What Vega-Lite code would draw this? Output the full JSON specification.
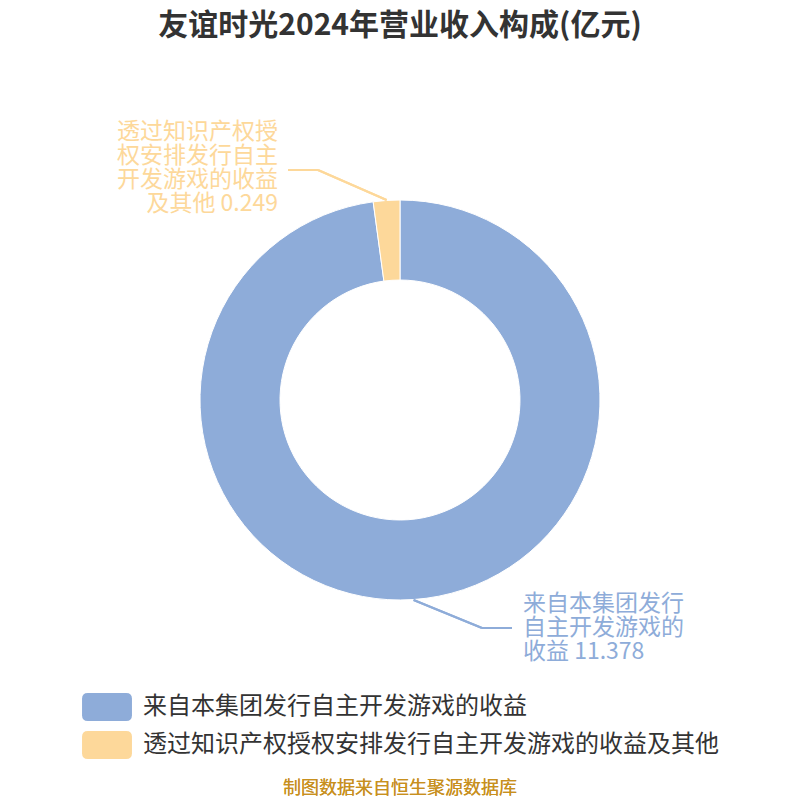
{
  "$schema": "https://vega.github.io/schema/vega-lite/v6.json",
  "width": 800,
  "height": 800,
  "autosize": {"type": "none"},
  "padding": 0,
  "background": "white",
  "config": {"view": {"stroke": null}, "font": "Noto Sans CJK SC"},
  "title": {
    "text": "友谊时光2024年营业收入构成(亿元)",
    "fontSize": 30,
    "fontWeight": "bold",
    "color": "#333333",
    "font": "Noto Sans CJK SC",
    "anchor": "middle",
    "offset": -41
  },
  "data": {
    "values": [
      {"category": "来自本集团发行自主开发游戏的收益", "value": 11.378, "order": 1, "label": "\u00a0来自本集团发行\n自主开发游戏的\n收益 11.378"},
      {"category": "透过知识产权授权安排发行自主开发游戏的收益及其他", "value": 0.249, "order": 2, "label": "透过知识产权授\n权安排发行自主\n开发游戏的收益\n及其他 0.249"}
    ]
  },
  "layer": [
    {
      "mark": {"type": "arc", "outerRadius": 200, "innerRadius": 120, "stroke": "white", "strokeWidth": 1},
      "encoding": {
        "theta": {"field": "value", "type": "quantitative", "stack": true},
        "order": {"field": "order", "type": "quantitative"},
        "color": {
          "field": "category",
          "type": "nominal",
          "sort": null,
          "scale": {
            "domain": ["来自本集团发行自主开发游戏的收益", "透过知识产权授权安排发行自主开发游戏的收益及其他"],
            "range": ["#8eacd9", "#fdd89a"]
          },
          "legend": {
            "title": null,
            "orient": "none",
            "legendX": 83,
            "legendY": 683,
            "padding": 0,
            "rowPadding": 0,
            "symbolType": "M-0.8,-0.58 L0.8,-0.58 Q1.04,-0.58 1.04,-0.34 L1.04,0.34 Q1.04,0.58 0.8,0.58 L-0.8,0.58 Q-1.04,0.58 -1.04,0.34 L-1.04,-0.34 Q-1.04,-0.58 -0.8,-0.58 Z",
            "symbolSize": 2304,
            "symbolStrokeWidth": 0,
            "symbolOpacity": 1,
            "labelFontSize": 24,
            "labelColor": "#333333",
            "labelFont": "Noto Sans CJK SC",
            "labelOffset": 12,
            "labelLimit": 1000
          }
        }
      }
    },
    {
      "transform": [{"filter": "datum.order == 2"}],
      "mark": {"type": "text", "align": "right", "baseline": "middle", "lineBreak": "\n", "fontSize": 23, "lineHeight": 24, "font": "Noto Sans CJK SC"},
      "encoding": {
        "x": {"datum": -0.61, "type": "quantitative", "scale": {"domain": [-2, 2]}, "axis": null},
        "y": {"datum": 1.34, "type": "quantitative", "scale": {"domain": [-2, 2]}, "axis": null},
        "text": {"field": "label"},
        "color": {"field": "category", "type": "nominal", "legend": null}
      }
    },
    {
      "transform": [{"filter": "datum.order == 1"}],
      "mark": {"type": "text", "align": "left", "baseline": "middle", "lineBreak": "\n", "fontSize": 23, "lineHeight": 24, "font": "Noto Sans CJK SC"},
      "encoding": {
        "x": {"datum": 0.615, "type": "quantitative", "scale": {"domain": [-2, 2]}, "axis": null},
        "y": {"datum": -1.02, "type": "quantitative", "scale": {"domain": [-2, 2]}, "axis": null},
        "text": {"field": "label"},
        "color": {"field": "category", "type": "nominal", "legend": null}
      }
    },
    {
      "mark": {"type": "rule", "color": "#fdd89a", "strokeWidth": 2},
      "encoding": {
        "x": {"datum": -0.067, "type": "quantitative", "scale": {"domain": [-2, 2]}, "axis": null},
        "y": {"datum": 1.0, "type": "quantitative", "scale": {"domain": [-2, 2]}, "axis": null},
        "x2": {"datum": -0.41},
        "y2": {"datum": 1.15}
      }
    },
    {
      "mark": {"type": "rule", "color": "#fdd89a", "strokeWidth": 2},
      "encoding": {
        "x": {"datum": -0.41, "type": "quantitative", "scale": {"domain": [-2, 2]}, "axis": null},
        "y": {"datum": 1.15, "type": "quantitative", "scale": {"domain": [-2, 2]}, "axis": null},
        "x2": {"datum": -0.56},
        "y2": {"datum": 1.15}
      }
    },
    {
      "mark": {"type": "rule", "color": "#8eacd9", "strokeWidth": 2},
      "encoding": {
        "x": {"datum": 0.068, "type": "quantitative", "scale": {"domain": [-2, 2]}, "axis": null},
        "y": {"datum": -1.0, "type": "quantitative", "scale": {"domain": [-2, 2]}, "axis": null},
        "x2": {"datum": 0.41},
        "y2": {"datum": -1.14}
      }
    },
    {
      "mark": {"type": "rule", "color": "#8eacd9", "strokeWidth": 2},
      "encoding": {
        "x": {"datum": 0.41, "type": "quantitative", "scale": {"domain": [-2, 2]}, "axis": null},
        "y": {"datum": -1.14, "type": "quantitative", "scale": {"domain": [-2, 2]}, "axis": null},
        "x2": {"datum": 0.56},
        "y2": {"datum": -1.14}
      }
    },
    {
      "mark": {"type": "text", "align": "center", "baseline": "middle", "fontSize": 18, "fontWeight": "normal", "color": "#c8901e", "font": "Noto Sans CJK SC"},
      "encoding": {
        "x": {"datum": 0, "type": "quantitative", "scale": {"domain": [-2, 2]}, "axis": null},
        "y": {"datum": -1.945, "type": "quantitative", "scale": {"domain": [-2, 2]}, "axis": null},
        "text": {"datum": "制图数据来自恒生聚源数据库"}
      }
    }
  ]
}
